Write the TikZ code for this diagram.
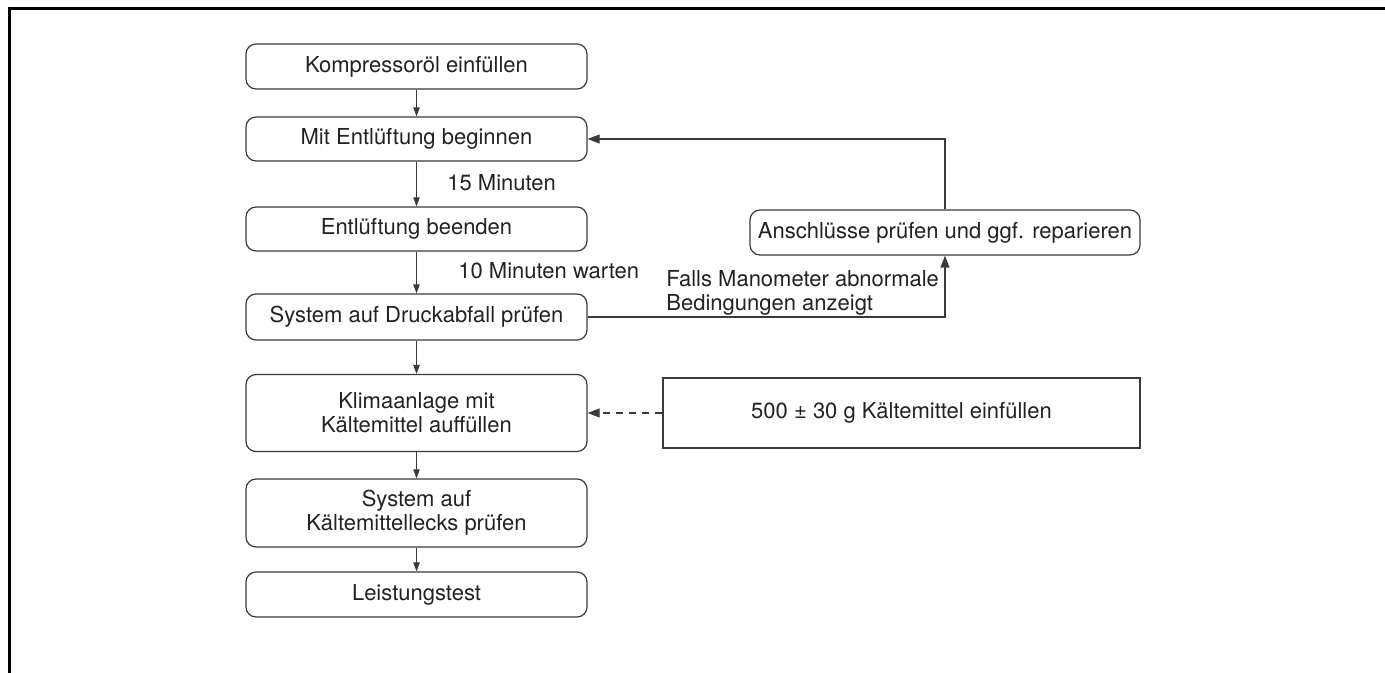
\documentclass[tikz,border=0pt]{standalone}
\usepackage{fontspec}
\setmainfont{TeX Gyre Heros}
\usepackage{xcolor}
\usetikzlibrary{arrows.meta}
\definecolor{linegray}{HTML}{3A3A3A}
\definecolor{textgray}{HTML}{222222}

\begin{document}
\begin{tikzpicture}[
  x=0.5pt, y=-0.5pt,
  font=\fontsize{11}{12}\selectfont,
  text=textgray,
  stepbox/.style={draw=linegray, rounded corners=5pt, align=center,
                  line width=0.6pt, minimum width=170.5pt, inner sep=2pt},
  notebox/.style={draw=linegray, align=center, line width=0.6pt, inner sep=2pt},
  arrow/.style={-{Triangle[length=4.5pt,width=3.2pt]}, draw=linegray, line width=0.5pt},
  bigarrow/.style={-{Triangle[length=6pt,width=4.5pt]}, draw=linegray, line width=0.6pt}
]
\useasboundingbox (0,0) rectangle (1385,673);

% Frame
\draw[line width=1.5pt] (1385,8.5) -- (9.5,8.5) -- (9.5,673);

% Main column
\node[stepbox, minimum height=22.5pt] (oil) at (416.5,66.5)
  {Kompressoröl einfüllen};
\node[stepbox, minimum height=22pt] (bleedon) at (416.5,139)
  {Mit Entlüftung beginnen};
\node[stepbox, minimum height=22pt] (bleedoff) at (416.5,229)
  {Entlüftung beenden};
\node[stepbox, minimum height=23pt] (drop) at (416.5,317)
  {System auf Druckabfall prüfen};
\node[stepbox, minimum height=38.5pt] (charge) at (416.5,413)
  {Klimaanlage mit\\ Kältemittel auffüllen};
\node[stepbox, minimum height=34pt] (leaks) at (416.5,513)
  {System auf\\ Kältemittellecks prüfen};
\node[stepbox, minimum height=22.5pt] (perf) at (416.5,594.5)
  {Leistungstest};

% Side boxes
\node[stepbox, minimum width=195pt, minimum height=22.5pt] (repair) at (945,232.5)
  {Anschlüsse prüfen und ggf. reparieren};
\node[notebox, minimum width=238.5pt, minimum height=35pt] (amount) at (901.5,413)
  {500 ± 30 g Kältemittel einfüllen};

% Labels
\node[anchor=west, inner sep=0pt] (t15) at (447,183) {15 Minuten};
\node[anchor=west, inner sep=0pt] (t10) at (458,271) {10 Minuten warten};
\node[anchor=west, align=left, inner sep=0pt] (abn) at (666,293)
  {Falls Manometer abnormale\\ Bedingungen anzeigt};

% Main flow
\draw[arrow] (oil) -- (bleedon);
\draw[arrow] (bleedon) -- (bleedoff);
\draw[arrow] (bleedoff) -- (drop);
\draw[arrow] (drop) -- (charge);
\draw[arrow] (charge) -- (leaks);
\draw[arrow] (leaks) -- (perf);

% Loop back
\draw[bigarrow] (drop.east) -| (repair.south);
\draw[bigarrow] (repair.north) |- (bleedon.east);

% Amount
\draw[bigarrow, dash pattern=on 3.5pt off 3pt] (amount.west) -- (charge.east);
\end{tikzpicture}
\end{document}
